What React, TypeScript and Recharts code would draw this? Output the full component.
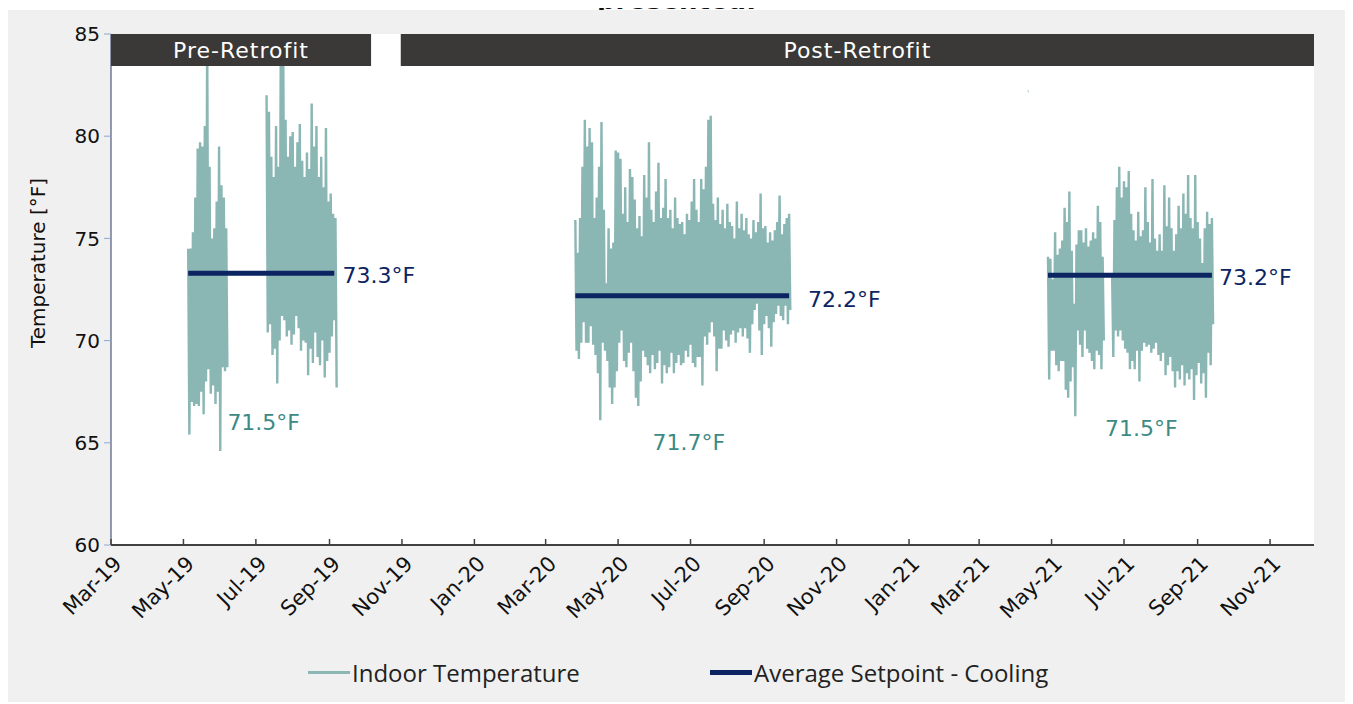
import React from "react";
import {
  LineChart,
  Line,
  XAxis,
  YAxis,
  CartesianGrid,
  ReferenceArea,
  ReferenceDot,
  Legend,
} from "recharts";

const FONT = "'DejaVu Sans', sans-serif";
const LEGEND_FONT = "'Open Sans', sans-serif";
const TEAL = "#8ab6b4";
const TEAL_TEXT = "#3d8a84";
const NAVY = "#0c2461";
const BANNER = "#3a3937";

// day 0 = 1 Mar 2019
const ORIGIN = Date.UTC(2019, 2, 1);
const dayOf = (iso: string) => Math.round((Date.parse(iso) - ORIGIN) / 86400000);

const xTickLabels = [
  "Mar-19", "May-19", "Jul-19", "Sep-19", "Nov-19", "Jan-20", "Mar-20", "May-20",
  "Jul-20", "Sep-20", "Nov-20", "Jan-21", "Mar-21", "May-21", "Jul-21", "Sep-21", "Nov-21",
];
const xTickDates = [
  "2019-03-01", "2019-05-01", "2019-07-01", "2019-09-01", "2019-11-01", "2020-01-01",
  "2020-03-01", "2020-05-01", "2020-07-01", "2020-09-01", "2020-11-01", "2021-01-01",
  "2021-03-01", "2021-05-01", "2021-07-01", "2021-09-01", "2021-11-01",
];
const axisEnd = "2021-12-08";
const yTicks = [60, 65, 70, 75, 80, 85];

// indoor temperature swings: peak then trough, one pair every two days
const pre1Start = "2019-05-05";
const pre1High = [74.5, 74.5, 75.3, 77.0, 79.4, 79.7, 79.5, 80.5, 85.0, 78.5, 75.0, 75.5, 76.8, 79.5, 77.6, 77.0, 75.5];
const pre1Low = [65.4, 67.0, 66.8, 66.9, 66.8, 67.5, 66.4, 68.0, 68.6, 67.4, 67.8, 66.9, 67.5, 64.6, 68.7, 68.5, 68.7];

const pre2Start = "2019-07-10";
const pre2High = [82.0, 81.2, 79.0, 78.0, 80.5, 78.5, 85.0, 85.0, 80.8, 79.0, 80.0, 80.2, 78.5, 79.7, 80.6, 78.8, 78.0, 79.2, 78.4, 81.6, 79.5, 80.5, 78.0, 79.0, 77.5, 80.4, 76.8, 77.2, 76.2, 76.0];
const pre2Low = [70.4, 70.8, 69.3, 69.6, 67.9, 70.0, 71.2, 71.0, 70.2, 70.5, 69.8, 70.3, 71.2, 70.6, 69.5, 70.0, 69.9, 68.3, 69.6, 68.9, 70.4, 69.2, 68.8, 70.0, 68.2, 69.0, 69.4, 70.2, 71.0, 67.7];

const post20Start = "2020-03-26";
const post20High = [
  75.9, 74.3, 76.0, 78.5, 80.8, 79.5, 80.4, 79.7, 76.0, 77.0,
  78.5, 80.7, 76.4, 72.8, 75.5, 74.5, 74.8, 79.3, 79.2, 78.9,
  76.2, 77.5, 75.8, 78.4, 78.0, 76.9, 75.5, 76.1, 75.1, 78.1,
  77.0, 79.7, 76.4, 75.8, 77.3, 78.7, 76.0, 76.5, 77.9, 76.0,
  76.4, 75.5, 77.0, 76.0, 75.7, 75.8, 75.2, 76.2, 75.9, 76.8,
  77.9, 76.4, 75.8, 77.9, 77.4, 78.5, 80.8, 81.0, 76.7, 75.9,
  77.0, 75.7, 76.4, 75.5, 76.7, 75.8, 75.6, 75.0, 76.8, 75.5,
  76.2, 75.4, 76.0, 75.2, 75.0, 75.9, 75.3, 75.8, 77.2, 75.5,
  75.6, 74.8, 75.3, 74.9, 75.4, 75.8, 77.1, 75.2, 75.7, 76.0,
  76.2,
];
const post20Low = [
  69.5, 69.1, 69.9, 70.9, 69.9, 69.9, 70.7, 69.8, 69.3, 68.4,
  66.1, 69.9, 69.5, 69.0, 67.7, 66.9, 67.7, 68.5, 69.9, 70.5,
  69.0, 68.7, 69.4, 69.9, 68.5, 67.2, 66.8, 68.0, 69.5, 69.2,
  68.8, 68.4, 69.3, 68.6, 68.9, 69.5, 67.9, 68.8, 68.4, 68.7,
  69.4, 68.4, 68.9, 69.3, 68.8, 68.9, 69.5, 69.2, 69.8, 68.9,
  68.7, 69.2, 69.2, 67.8, 70.2, 69.8, 70.4, 70.9, 70.2, 68.5,
  69.6, 69.6, 70.5, 70.0, 69.7, 70.3, 70.5, 69.9, 70.4, 70.6,
  70.2, 70.6, 70.1, 69.4, 70.8, 71.5, 71.8, 70.5, 69.3, 70.8,
  71.2, 70.6, 69.7, 70.9, 71.3, 71.7, 71.2, 71.0, 71.7, 70.8,
  71.5,
];

const post21aStart = "2021-04-28";
const post21aHigh = [74.1, 74.0, 73.0, 75.3, 74.2, 74.5, 74.9, 76.5, 75.8, 77.3, 74.4, 71.8, 74.7, 75.4, 75.4, 74.8, 75.5, 74.6, 74.9, 75.3, 75.0, 76.6, 75.8, 74.1];
const post21aLow = [68.1, 69.5, 69.5, 68.8, 68.5, 69.0, 69.0, 67.6, 67.2, 68.0, 68.7, 66.3, 70.5, 69.8, 69.2, 70.5, 69.6, 69.4, 69.0, 68.6, 69.5, 69.3, 68.6, 70.0];

const post21bStart = "2021-06-21";
const post21bHigh = [
  73.3, 75.9, 77.5, 78.5, 77.0, 77.8, 77.5, 78.3, 76.2, 75.4,
  74.9, 76.3, 75.1, 75.4, 77.5, 75.8, 74.8, 77.9, 75.0, 74.4,
  75.2, 74.4, 77.6, 75.6, 77.0, 75.5, 74.4, 75.2, 76.6, 75.5,
  77.2, 76.2, 78.1, 76.0, 75.5, 78.1, 75.8, 75.0, 73.8, 75.5,
  76.3, 75.7, 76.0,
];
const post21bLow = [
  69.2, 70.5, 70.2, 70.5, 70.0, 69.6, 69.4, 68.6, 69.0, 68.6,
  69.5, 68.0, 69.5, 69.9, 69.7, 69.8, 69.4, 69.6, 69.9, 69.3,
  69.0, 69.4, 68.3, 68.8, 69.2, 68.5, 67.7, 68.5, 68.1, 68.8,
  67.8, 68.4, 68.1, 68.6, 67.1, 68.3, 68.9, 67.9, 68.4, 67.2,
  69.4, 68.8, 70.8,
];

const strayDate = "2021-04-11";
const strayValue = 82.2;

// cooling setpoint averages per monitoring period
const setpointStarts = ["2019-05-05", "2020-03-26", "2021-04-28"];
const setpointEnds = ["2019-09-05", "2020-09-22", "2021-09-13"];
const setpointValues = [73.3, 72.2, 73.2];
const indoorAverages = [71.5, 71.7, 71.5];

const periodNames = ["Pre-Retrofit", "Post-Retrofit"];
const periodStarts = ["2019-03-01", "2019-10-31"];
const periodEnds = ["2019-10-06", axisEnd];

type Pt = { day: number; temp: number | null };

function swings(start: string, highs: number[], lows: number[]): Pt[] {
  const d0 = dayOf(start);
  const out: Pt[] = [];
  highs.forEach((h, i) => {
    out.push({ day: d0 + 2 * i, temp: h });
    out.push({ day: d0 + 2 * i + 1, temp: lows[i] });
  });
  out.push({ day: d0 + 2 * highs.length, temp: null });
  return out;
}

const tempData: Pt[] = [
  ...swings(pre1Start, pre1High, pre1Low),
  ...swings(pre2Start, pre2High, pre2Low),
  ...swings(post20Start, post20High, post20Low),
  { day: dayOf(strayDate), temp: strayValue },
  { day: dayOf(strayDate) + 0.6, temp: strayValue },
  { day: dayOf(strayDate) + 1, temp: null },
  ...swings(post21aStart, post21aHigh, post21aLow),
  ...swings(post21bStart, post21bHigh, post21bLow),
];

const setpointData = setpointValues.flatMap((v, i) => [
  { day: dayOf(setpointStarts[i]), sp: v },
  { day: dayOf(setpointEnds[i]), sp: v },
  { day: dayOf(setpointEnds[i]) + 1, sp: null },
]);

const xTickDays = xTickDates.map(dayOf);

// where the value call-outs sit (date, temperature)
const setpointLabelAt = [
  ["2019-09-12", 73.2],
  ["2020-10-08", 72.0],
  ["2021-09-19", 73.1],
] as const;
const averageLabelAt = [
  ["2019-06-07", 66.0],
  ["2020-05-30", 65.0],
  ["2021-06-15", 65.7],
] as const;

function MonthTick(props: any) {
  const { x, y, payload } = props;
  const idx = xTickDays.indexOf(payload.value);
  const tx = x + 7;
  const ty = y + 15;
  return (
    <g>
      <line x1={x} x2={x} y1={y} y2={y - 6} stroke="#404040" strokeWidth={1.5} />
      <text
        x={tx}
        y={ty}
        transform={`rotate(-45 ${tx} ${ty})`}
        textAnchor="end"
        dominantBaseline="central"
        fontSize={21}
        fontFamily={FONT}
        fill="#111"
      >
        {xTickLabels[idx]}
      </text>
    </g>
  );
}

function callout(text: string, color: string) {
  return (p: any) => (
    <text
      x={p.cx}
      y={p.cy}
      dominantBaseline="central"
      fontSize={22}
      fontFamily={FONT}
      fill={color}
    >
      {text}
    </text>
  );
}

const legendItems = [
  { name: "Indoor Temperature", color: TEAL, thick: 3, width: 402 },
  { name: "Average Setpoint - Cooling", color: NAVY, thick: 5, width: 420 },
];

function LegendContent() {
  return (
    <div style={{ display: "flex", alignItems: "center", fontFamily: LEGEND_FONT, fontSize: 24, color: "#222" }}>
      {legendItems.map((it) => (
        <div key={it.name} style={{ display: "flex", alignItems: "center", width: it.width }}>
          <span style={{ display: "inline-block", width: 42, height: it.thick, background: it.color }} />
          <span style={{ marginLeft: 2 }}>{it.name}</span>
        </div>
      ))}
    </div>
  );
}

export default function App() {
  return (
    <div style={{ position: "relative", width: 1345, height: 694, fontFamily: FONT }}>
      <div
        style={{
          position: "absolute",
          top: -21,
          left: -4,
          width: 1345,
          textAlign: "center",
          fontWeight: 700,
          fontSize: 26,
          lineHeight: "26px",
          color: "#111",
        }}
      >
        presented.
      </div>
      <div style={{ position: "absolute", top: 2, left: 0, width: 1345, height: 692, background: "#f0f0f0" }}>
        <LineChart width={1345} height={692} margin={{ top: 24, right: 39, bottom: 97, left: 0 }}>
          <CartesianGrid horizontal={false} vertical={false} fill="#ffffff" />
          <XAxis
            type="number"
            dataKey="day"
            domain={[0, dayOf(axisEnd)]}
            ticks={xTickDays}
            interval={0}
            height={60}
            tickSize={0}
            tickMargin={0}
            axisLine={{ stroke: "#404040", strokeWidth: 2 }}
            tickLine={false}
            tick={<MonthTick />}
            allowDataOverflow
          />
          <YAxis
            type="number"
            domain={[60, 85]}
            ticks={yTicks}
            width={103}
            tickSize={7}
            tickMargin={4}
            axisLine={{ stroke: "#2b3a66" }}
            tickLine={{ stroke: "#8fa6cf" }}
            tick={{ fill: "#111", fontSize: 20, fontFamily: FONT }}
            allowDataOverflow
            label={{
              content: () => (
                <text
                  x={30}
                  y={253}
                  transform="rotate(-90 30 253)"
                  textAnchor="middle"
                  dominantBaseline="central"
                  fontSize={20}
                  fontFamily={FONT}
                  fill="#111"
                >
                  Temperature [°F]
                </text>
              ),
            }}
          />
          <Line
            data={tempData}
            dataKey="temp"
            name="Indoor Temperature"
            type="linear"
            stroke={TEAL}
            strokeWidth={2.4}
            dot={false}
            connectNulls={false}
            isAnimationActive={false}
          />
          <Line
            data={setpointData}
            dataKey="sp"
            name="Average Setpoint - Cooling"
            type="linear"
            stroke={NAVY}
            strokeWidth={5}
            dot={false}
            connectNulls={false}
            isAnimationActive={false}
          />
          {periodNames.map((n, i) => (
            <ReferenceArea
              key={n}
              x1={dayOf(periodStarts[i])}
              x2={dayOf(periodEnds[i])}
              y1={83.43}
              y2={85}
              fill={BANNER}
              fillOpacity={1}
              stroke="none"
              ifOverflow="visible"
              zIndex={1000}
              label={{
                value: n,
                position: "center",
                fill: "#ffffff",
                fontSize: 22,
                fontFamily: FONT,
                letterSpacing: 1,
              }}
            />
          ))}
          {setpointValues.map((v, i) => (
            <ReferenceDot
              key={"sp" + i}
              x={dayOf(setpointLabelAt[i][0])}
              y={setpointLabelAt[i][1]}
              r={0}
              ifOverflow="visible"
              shape={callout(`${v.toFixed(1)}°F`, NAVY)}
            />
          ))}
          {indoorAverages.map((v, i) => (
            <ReferenceDot
              key={"avg" + i}
              x={dayOf(averageLabelAt[i][0])}
              y={averageLabelAt[i][1]}
              r={0}
              ifOverflow="visible"
              shape={callout(`${v.toFixed(1)}°F`, TEAL_TEXT)}
            />
          ))}
          <Legend
            verticalAlign="middle"
            layout="horizontal"
            wrapperStyle={{ top: 646, left: 300, width: 900, height: 32 }}
            content={() => <LegendContent />}
          />
        </LineChart>
      </div>
    </div>
  );
}
